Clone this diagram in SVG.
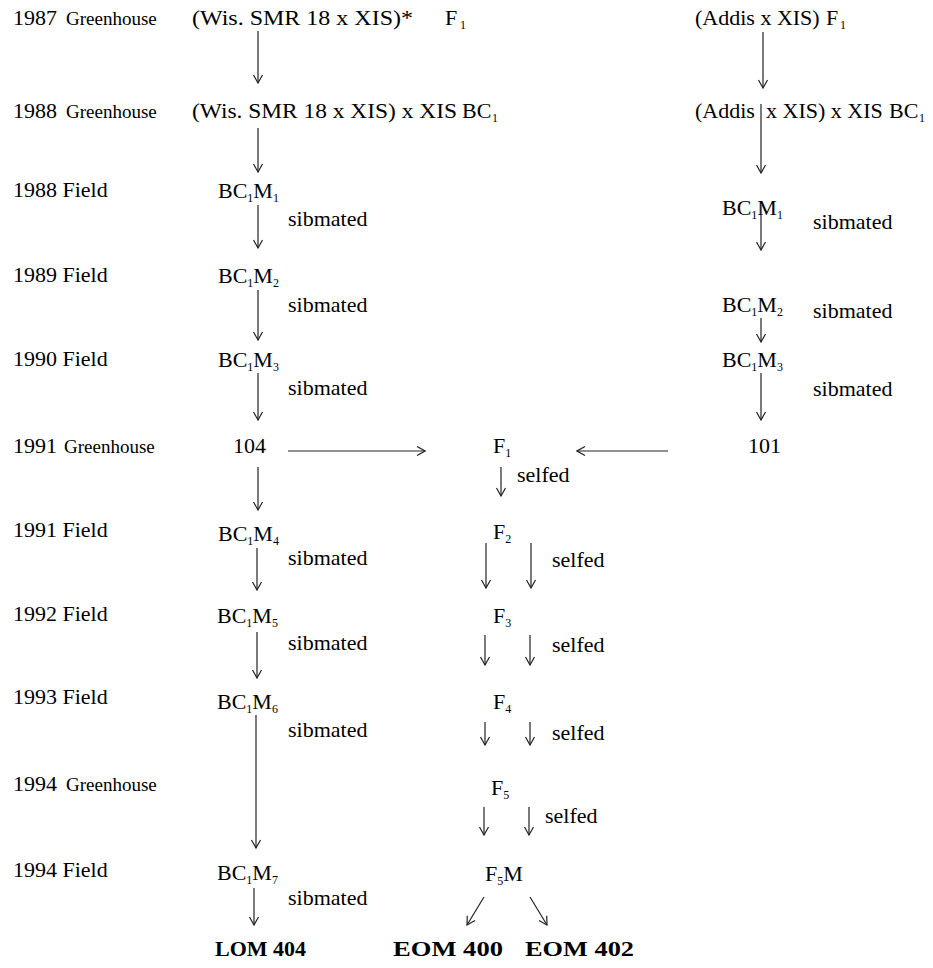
<svg xmlns="http://www.w3.org/2000/svg" width="933" height="968" viewBox="0 0 933 968">
<style>
text{font-family:"Liberation Serif","Times New Roman",serif;font-size:22px;fill:#000}
.gh{font-size:19px}
.sub{font-size:12px}
.b{font-weight:bold}
.c line{stroke:#222;stroke-width:1.2;fill:none;marker-end:url(#ah)}
</style>
<defs>
<marker id="ah" viewBox="-9 -6 10 12" refX="0" refY="0" markerWidth="10" markerHeight="12" markerUnits="userSpaceOnUse" orient="auto">
<path d="M-8,-4.5 L0,0 L-8,4.5" fill="none" stroke="#222" stroke-width="1.2"/>
</marker>
</defs>
<rect width="933" height="968" fill="#fff"/>
<g id="labels">
<text x="13" y="25">1987</text><text class="gh" x="66" y="25">Greenhouse</text>
<text x="13" y="118">1988</text><text class="gh" x="66" y="118">Greenhouse</text>
<text x="13" y="197">1988 Field</text>
<text x="13" y="282">1989 Field</text>
<text x="13" y="366">1990 Field</text>
<text x="13" y="453">1991</text><text class="gh" x="64" y="453">Greenhouse</text>
<text x="13" y="537">1991 Field</text>
<text x="13" y="621">1992 Field</text>
<text x="13" y="704">1993 Field</text>
<text x="13" y="791">1994</text><text class="gh" x="66" y="791">Greenhouse</text>
<text x="13" y="877">1994 Field</text>
</g>
<g id="n-wis-f1"><text x="192" y="25" textLength="221" lengthAdjust="spacingAndGlyphs">(Wis. SMR 18 x XIS)*</text><text x="445" y="25">F</text><text class="sub" x="460" y="29">1</text></g>
<g id="n-wis-bc1"><text x="192" y="118" textLength="265" lengthAdjust="spacingAndGlyphs">(Wis. SMR 18 x XIS) x XIS</text><text x="462" y="118">BC</text><text class="sub" x="492" y="122">1</text></g>
<g id="n-l-m1"><text x="218" y="198">BC<tspan class="sub" dy="4">1</tspan><tspan dy="-4">M</tspan><tspan class="sub" dy="4">1</tspan></text><text x="288" y="226">sibmated</text></g>
<g id="n-l-m2"><text x="218" y="283">BC<tspan class="sub" dy="4">1</tspan><tspan dy="-4">M</tspan><tspan class="sub" dy="4">2</tspan></text><text x="288" y="312">sibmated</text></g>
<g id="n-l-m3"><text x="218" y="367">BC<tspan class="sub" dy="4">1</tspan><tspan dy="-4">M</tspan><tspan class="sub" dy="4">3</tspan></text><text x="288" y="395">sibmated</text></g>
<g id="n-104"><text x="233" y="453">104</text></g>
<g id="n-l-m4"><text x="218" y="541">BC<tspan class="sub" dy="4">1</tspan><tspan dy="-4">M</tspan><tspan class="sub" dy="4">4</tspan></text><text x="288" y="565">sibmated</text></g>
<g id="n-l-m5"><text x="217" y="623">BC<tspan class="sub" dy="4">1</tspan><tspan dy="-4">M</tspan><tspan class="sub" dy="4">5</tspan></text><text x="288" y="650">sibmated</text></g>
<g id="n-l-m6"><text x="217" y="709">BC<tspan class="sub" dy="4">1</tspan><tspan dy="-4">M</tspan><tspan class="sub" dy="4">6</tspan></text><text x="288" y="737">sibmated</text></g>
<g id="n-l-m7"><text x="217" y="880">BC<tspan class="sub" dy="4">1</tspan><tspan dy="-4">M</tspan><tspan class="sub" dy="4">7</tspan></text><text x="288" y="905">sibmated</text></g>
<g id="n-lom404"><text class="b" x="215" y="956">LOM 404</text></g>
<g id="n-f1"><text x="493" y="453">F<tspan class="sub" dy="4">1</tspan></text><text x="517" y="482">selfed</text></g>
<g id="n-f2"><text x="493" y="539">F<tspan class="sub" dy="4">2</tspan></text><text x="552" y="567">selfed</text></g>
<g id="n-f3"><text x="493" y="623">F<tspan class="sub" dy="4">3</tspan></text><text x="552" y="652">selfed</text></g>
<g id="n-f4"><text x="493" y="709">F<tspan class="sub" dy="4">4</tspan></text><text x="552" y="740">selfed</text></g>
<g id="n-f5"><text x="491" y="795">F<tspan class="sub" dy="4">5</tspan></text><text x="545" y="823">selfed</text></g>
<g id="n-f5m"><text x="485" y="881">F<tspan class="sub" dy="4">5</tspan><tspan dy="-4">M</tspan></text></g>
<g id="n-eom400"><text class="b" x="393" y="956" textLength="110" lengthAdjust="spacingAndGlyphs">EOM 400</text></g>
<g id="n-eom402"><text class="b" x="525" y="956" textLength="109" lengthAdjust="spacingAndGlyphs">EOM 402</text></g>
<g id="n-addis-f1"><text x="695" y="25">(Addis x XIS)</text><text x="826" y="25">F</text><text class="sub" x="840" y="29">1</text></g>
<g id="n-addis-bc1"><text x="695" y="118">(Addis</text><text x="766" y="118">x XIS) x XIS</text><text x="889" y="118">BC</text><text class="sub" x="919" y="122">1</text></g>
<g id="n-r-m1"><text x="722" y="215">BC<tspan class="sub" dy="4">1</tspan><tspan dy="-4">M</tspan><tspan class="sub" dy="4">1</tspan></text><text x="813" y="229">sibmated</text></g>
<g id="n-r-m2"><text x="722" y="312">BC<tspan class="sub" dy="4">1</tspan><tspan dy="-4">M</tspan><tspan class="sub" dy="4">2</tspan></text><text x="813" y="318">sibmated</text></g>
<g id="n-r-m3"><text x="722" y="367">BC<tspan class="sub" dy="4">1</tspan><tspan dy="-4">M</tspan><tspan class="sub" dy="4">3</tspan></text><text x="813" y="396">sibmated</text></g>
<g id="n-101"><text x="748" y="453">101</text></g>
<g id="connectors" class="c">
<line x1="258" y1="31" x2="258" y2="83"/>
<line x1="258" y1="128" x2="258" y2="172"/>
<line x1="258" y1="205" x2="258" y2="248"/>
<line x1="258" y1="290" x2="258" y2="340"/>
<line x1="258" y1="373" x2="258" y2="420"/>
<line x1="258" y1="467" x2="258" y2="510"/>
<line x1="257" y1="548" x2="257" y2="590"/>
<line x1="257" y1="632" x2="257" y2="678"/>
<line x1="256" y1="715" x2="256" y2="848"/>
<line x1="254" y1="888" x2="254" y2="925"/>
<line x1="288" y1="451" x2="425" y2="451"/>
<line x1="668" y1="451" x2="577" y2="451"/>
<line x1="501" y1="467" x2="501" y2="496"/>
<line x1="486" y1="543" x2="486" y2="588"/>
<line x1="531" y1="543" x2="531" y2="588"/>
<line x1="485" y1="635" x2="485" y2="665"/>
<line x1="530" y1="635" x2="530" y2="665"/>
<line x1="485" y1="722" x2="485" y2="745"/>
<line x1="530" y1="722" x2="530" y2="745"/>
<line x1="484" y1="807" x2="484" y2="835"/>
<line x1="529" y1="807" x2="529" y2="835"/>
<line x1="484" y1="897" x2="467" y2="925"/>
<line x1="530" y1="897" x2="547" y2="925"/>
<line x1="763" y1="32" x2="763" y2="88"/>
<line x1="761" y1="104" x2="761" y2="173"/>
<line x1="761" y1="205" x2="761" y2="250"/>
<line x1="761" y1="318" x2="761" y2="342"/>
<line x1="761" y1="373" x2="761" y2="420"/>
</g>
</svg>
